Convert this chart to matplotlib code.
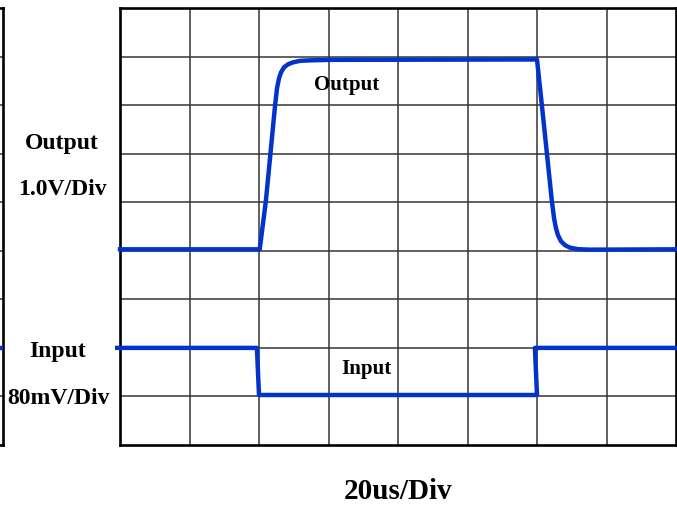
import matplotlib.pyplot as plt
import numpy as np

# scope trace, in divisions (8 x 9 grid)
out_t = [0.0, 2.01, 2.10, 2.23, 2.259, 2.288, 2.317, 2.36, 2.417, 2.489, 2.59, 2.734, 3.022,
         6.0, 6.07, 6.211, 6.245, 6.273, 6.302, 6.345, 6.403, 6.475, 6.59, 6.763, 8.0]
out_v = [4.03, 4.03, 5.04, 6.975, 7.346, 7.551, 7.675, 7.778, 7.84, 7.881, 7.912, 7.922, 7.932,
         7.94, 7.0, 5.062, 4.671, 4.465, 4.321, 4.198, 4.115, 4.064, 4.033, 4.023, 4.03]
in_t = [-0.04, 1.97, 2.0, 6.0, 5.97, 8.0]
in_v = [2.0, 2.0, 1.03, 1.03, 2.0, 2.0]

n_cols, n_rows = 8, 9
blue = '#0433CC'
font = 'Liberation Serif'

W, H = 677, 508
fig = plt.figure(figsize=(W / 100, H / 100), dpi=100)


def px_axes(x0, y0, x1, y1):
    return fig.add_axes([x0 / W, 1 - y1 / H, (x1 - x0) / W, (y1 - y0) / H])


def scope_grid(ax):
    ax.set_xlim(0, n_cols)
    ax.set_ylim(0, n_rows)
    for i in range(1, n_cols):
        ax.axvline(i, color='#353535', lw=1.1, zorder=1)
    for j in range(1, n_rows):
        ax.axhline(j, color='#353535', lw=1.1, zorder=1)
    ax.set_xticks([])
    ax.set_yticks([])
    for s in ax.spines.values():
        s.set_linewidth(1.9)
        s.set_color('black')


# sliver of the neighbouring panel on the left
ax0 = px_axes(-553, 8, 3, 445)
scope_grid(ax0)
ax0.plot([0, n_cols], [2.0, 2.0], color=blue, lw=3.2, zorder=3)

ax = px_axes(120, 8, 676, 445)
scope_grid(ax)
ax.plot(out_t, out_v, color=blue, lw=3.2, zorder=3, solid_joinstyle='round', clip_on=False)
ax.plot(in_t, in_v, color=blue, lw=3.2, zorder=3, clip_on=False)

ax.text(3.26, (445 - 89.3) / 48.6, 'Output', ha='center', va='baseline',
        family=font, weight='bold', fontsize=15)
ax.text(3.54, (445 - 374) / 48.6, 'Input', ha='center', va='baseline',
        family=font, weight='bold', fontsize=15)


def fig_text(x, y, s, size):
    fig.text(x / W, 1 - y / H, s, ha='center', va='baseline',
             family=font, weight='bold', fontsize=size)


fig_text(62, 149.3, 'Output', 17)
fig_text(62, 195, '1.0V/Div', 17)
fig_text(58, 356.7, 'Input', 17)
fig_text(58, 404, '80mV/Div', 17)
fig_text(398, 499.3, '20us/Div', 21)

fig.savefig('out.png', dpi=100)
